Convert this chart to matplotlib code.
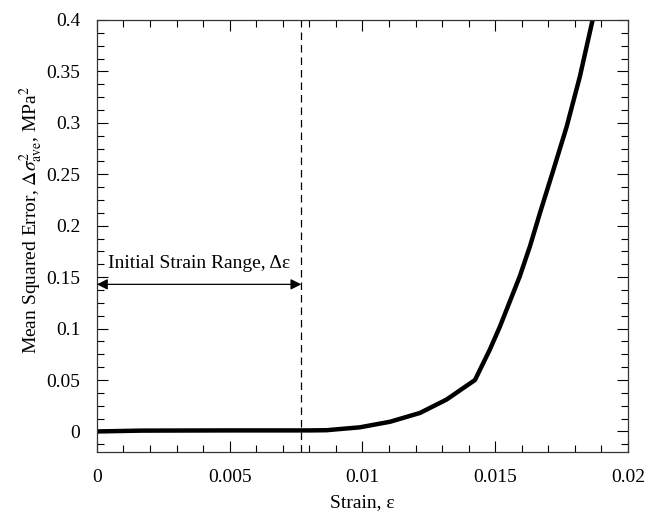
import matplotlib
matplotlib.use("Agg")
import matplotlib.pyplot as plt
from matplotlib.ticker import MultipleLocator

plt.rcParams['font.family'] = ['Liberation Serif', 'DejaVu Serif']
plt.rcParams['mathtext.fontset'] = 'stix'

strain = [0.0, 0.0017, 0.005, 0.0080, 0.00865, 0.0099, 0.01104, 0.01217, 0.01317,
          0.01424, 0.0148, 0.01518, 0.01593, 0.01631, 0.01669, 0.01719, 0.01769,
          0.01819, 0.01867]
mse = [0.0, 0.0008, 0.001, 0.001, 0.0012, 0.004, 0.0094, 0.018, 0.031,
       0.050, 0.0796, 0.102, 0.151, 0.180, 0.2126, 0.254, 0.296, 0.345, 0.400]

xticks = [0, 0.005, 0.01, 0.015, 0.02]
xticklabels = ['0', '0.005', '0.01', '0.015', '0.02']
yticks = [0, 0.05, 0.1, 0.15, 0.2, 0.25, 0.3, 0.35, 0.4]
yticklabels = ['0', '0.05', '0.1', '0.15', '0.2', '0.25', '0.3', '0.35', '0.4']

initial_range = 0.0077
arrow_y = 0.143

fig = plt.figure(figsize=(6.46, 5.14), dpi=100)
ax = fig.add_axes([0.150, 0.1206, 0.822, 0.8405])

ax.plot(strain, mse, color='black', lw=3.2, solid_capstyle='butt')
ax.axvline(initial_range, color='black', lw=0.9, ls=(0, (6, 4)))
ax.annotate('', xy=(0, arrow_y), xytext=(initial_range, arrow_y),
            arrowprops=dict(arrowstyle='<|-|>', color='black', lw=0.9,
                            mutation_scale=16, shrinkA=0, shrinkB=0))
ax.text(initial_range / 2, arrow_y + 0.012, 'Initial Strain Range, Δε',
        ha='center', va='bottom', fontsize=14)

ax.set_xlim(0, 0.02)
ax.set_ylim(-0.02, 0.4)
ax.set_xticks(xticks)
ax.set_xticklabels(xticklabels)
ax.set_yticks(yticks)
ax.set_yticklabels(yticklabels)
ax.xaxis.set_minor_locator(MultipleLocator(0.001))
ax.yaxis.set_minor_locator(MultipleLocator(0.0125))
ax.tick_params(which='both', direction='in', top=True, right=True, labelsize=14)
ax.tick_params(which='major', length=8, width=0.8, pad=12)
ax.tick_params(which='minor', length=5, width=0.8)
for s in ax.spines.values():
    s.set_linewidth(0.9)
    s.set_color('#333333')

ax.set_xlabel('Strain, ε', fontsize=14)
ax.xaxis.set_label_coords(0.5, -0.098)
ax.set_ylabel(r'Mean Squared Error, $\Delta\sigma^{2}_{\mathrm{ave}}$, MPa$^{2}$', fontsize=14)
ax.yaxis.set_label_coords(-0.098, 0.537)

fig.savefig('out.png', dpi=100)
